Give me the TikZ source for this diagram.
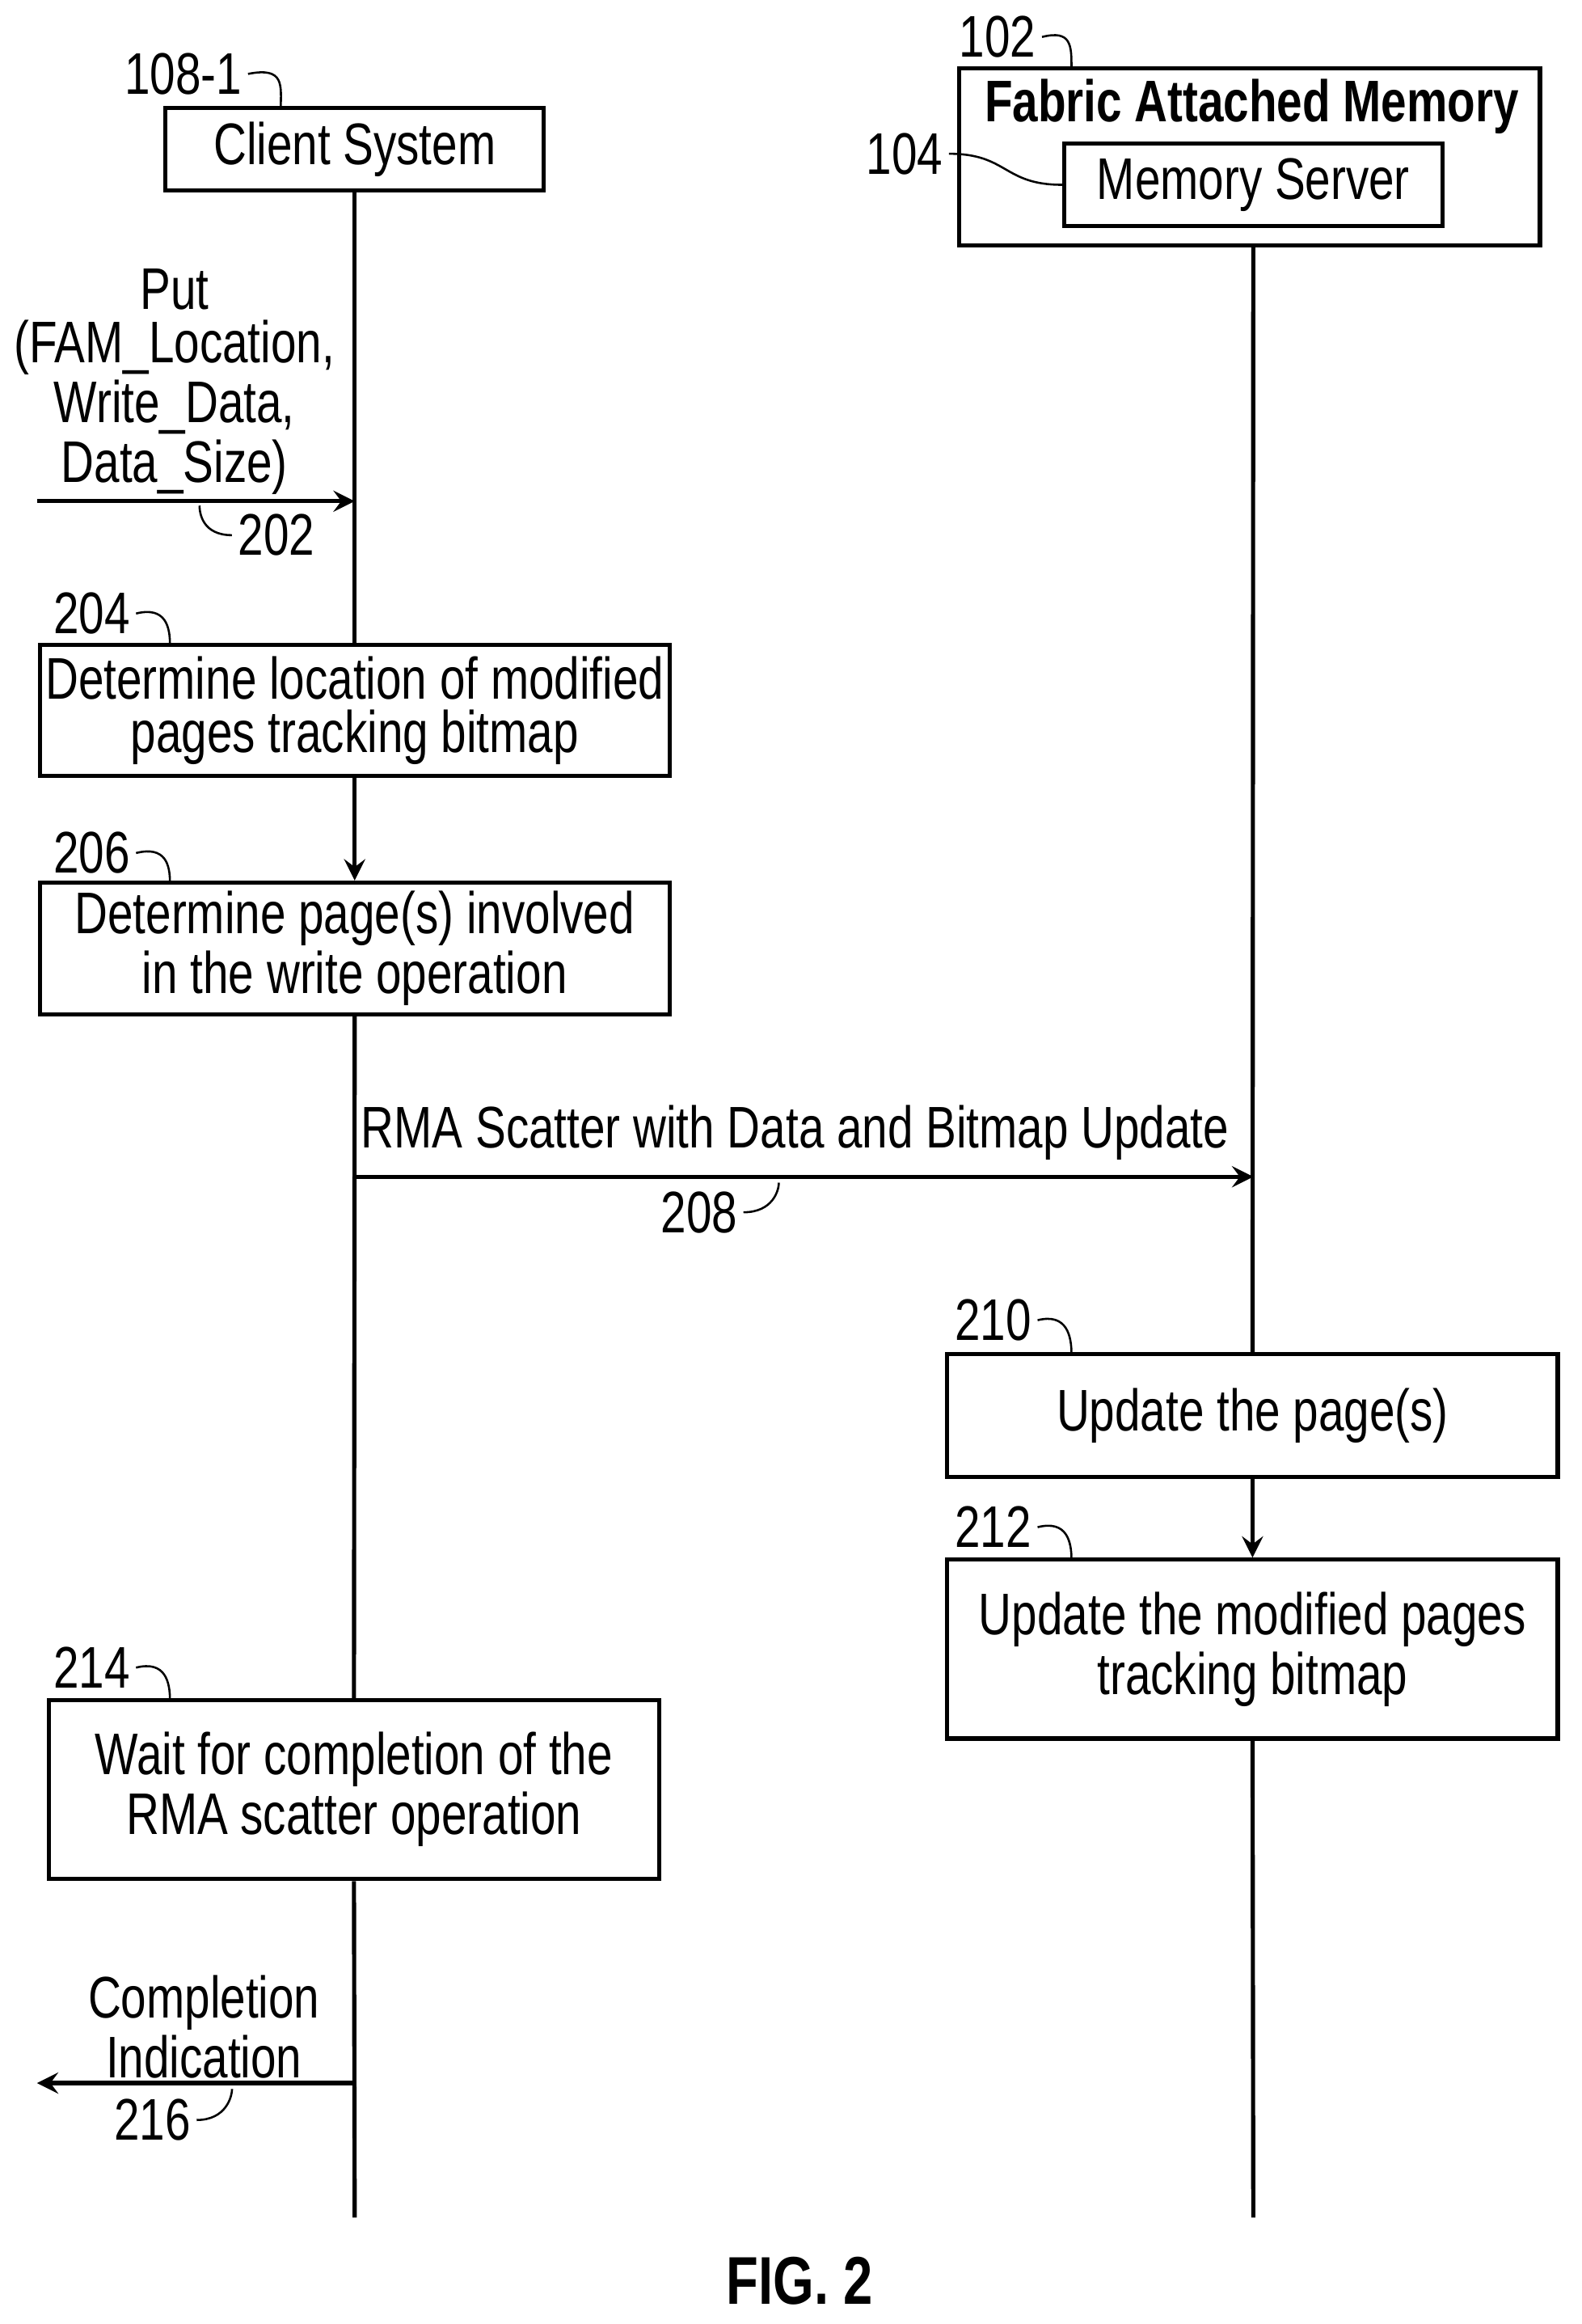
\documentclass[tikz,border=0pt]{standalone}
\usepackage{fontspec}
\setmainfont{Liberation Sans}[FakeStretch=0.78]
\usetikzlibrary{positioning,calc}

\begin{document}
\begin{tikzpicture}[x=0.1mm,y=-0.1mm,
    box/.style={draw,thick,align=center,inner sep=0pt,font=\fontsize{11.3}{10.3}\selectfont},
    txt/.style={align=center,inner sep=1pt,font=\fontsize{11.3}{10.3}\selectfont},
    num/.style={inner sep=1pt,font=\fontsize{11.3}{10.3}\selectfont},
    msg/.style={->,thick,>=stealth},
    lead/.style={thin}]
    \useasboundingbox (0,0) rectangle (1070,1572);

    % Participants
    \node[box,minimum width=256*0.1mm,minimum height=56*0.1mm] (client) at (240,101) {Client System};
    \draw[thick] (649,46) rectangle (1042,166);
    \coordinate (famb) at (848,166);
    \node[txt,font=\bfseries\fontsize{11.3}{10.3}\selectfont] (famt) at (847,72) {Fabric Attached Memory};
    \node[box,minimum width=256*0.1mm,minimum height=56*0.1mm] (server) at (848,125) {Memory Server};

    % Lifelines
    \coordinate (cend) at (240,1500);
    \coordinate (send) at (848,1500);

    % Boxes on the client side
    \node[box,minimum width=426*0.1mm,minimum height=89*0.1mm] (b204) at (240,480.5) {Determine location of modified\\pages tracking bitmap};
    \node[box,minimum width=426*0.1mm,minimum height=89*0.1mm] (b206) at (240,641.5) {Determine page(s) involved\\in the write operation};
    \node[box,minimum width=413*0.1mm,minimum height=121*0.1mm] (b214) at (239.5,1210.5) {Wait for completion of the\\RMA scatter operation};

    % Boxes on the server side
    \node[box,minimum width=413*0.1mm,minimum height=83*0.1mm] (b210) at (847.5,957.5) {Update the page(s)};
    \node[box,minimum width=413*0.1mm,minimum height=121*0.1mm] (b212) at (847.5,1115.5) {Update the modified pages\\tracking bitmap};

    \draw[thick] (client.south) -- (b204.north);
    \draw[msg] (b204.south) -- (b206.north);
    \draw[thick] (b206.south) -- (b214.north);
    \draw[thick] (b214.south) -- (cend);
    \draw[thick] (famb) -- (b210.north);
    \draw[msg] (b210.south) -- (b212.north);
    \draw[thick] (b212.south) -- (send);

    % Messages
    \coordinate (putin) at (25,339);
    \coordinate (putat) at (240,339);
    \draw[msg] (putin) -- (putat);
    \node[txt] (put) at (118,258) {Put\\(FAM\_Location,\\Write\_Data,\\Data\_Size)};
    \coordinate (rmaat) at (240,796);
    \coordinate (rmato) at (848,796);
    \draw[msg] (rmaat) -- (rmato);
    \node[txt,above=2pt of {$(rmaat)!0.49!(rmato)$}] (rma) {RMA Scatter with Data and Bitmap Update};
    \coordinate (compat) at (240,1409);
    \coordinate (compto) at (25,1409);
    \draw[msg] (compat) -- (compto);
    \node[txt] (comp) at (138,1371) {Completion\\Indication};

    % Reference numerals
    \node[num] (n108) at (124,50) {108-1};
    \draw[lead] (n108.east) .. controls +(25,-5) and +(0,-15) .. (190,73);
    \node[num] (n102) at (675,25) {102};
    \draw[lead] (n102.east) .. controls +(20,-5) and +(0,-15) .. (725,46);
    \node[num] (n104) at (612,104) {104};
    \draw[lead] (n104.east) .. controls +(40,0) and +(-40,0) .. (server.west);
    \node[num] (n202) at (187,362) {202};
    \draw[lead] (n202.west) .. controls +(-20,0) and +(0,5) .. (135,342);
    \node[num] (n204) at (62,415) {204};
    \draw[lead] (n204.east) .. controls +(20,-5) and +(0,-12) .. (115,436);
    \node[num] (n206) at (62,577) {206};
    \draw[lead] (n206.east) .. controls +(20,-5) and +(0,-12) .. (115,597);
    \node[num] (n208) at (473,820) {208};
    \draw[lead] (n208.east) .. controls +(20,0) and +(0,5) .. (527,800);
    \node[num] (n210) at (672,893) {210};
    \draw[lead] (n210.east) .. controls +(20,-5) and +(0,-12) .. (725,916);
    \node[num] (n212) at (672,1033) {212};
    \draw[lead] (n212.east) .. controls +(20,-5) and +(0,-12) .. (725,1055);
    \node[num] (n214) at (62,1128) {214};
    \draw[lead] (n214.east) .. controls +(20,-5) and +(0,-12) .. (115,1150);
    \node[num] (n216) at (103,1434) {216};
    \draw[lead] (n216.east) .. controls +(20,0) and +(0,5) .. (157,1413);

    \node[txt,font=\bfseries\fontsize{13}{14}\selectfont] (fig) at (541,1543) {FIG. 2};
\end{tikzpicture}
\end{document}
